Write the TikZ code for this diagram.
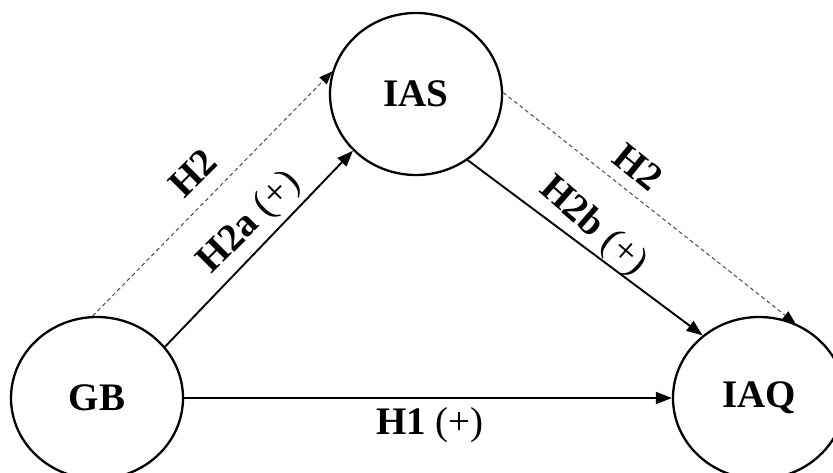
\documentclass[tikz,border=0pt]{standalone}
\usepackage{fontspec}
\setmainfont{Liberation Serif}
\usetikzlibrary{shapes.geometric,arrows.meta}
\begin{document}
\begin{tikzpicture}[x=1pt,y=-1pt,
  var/.style={ellipse,draw,line width=2.3pt,minimum width=172pt,minimum height=162pt,inner sep=0pt,font=\fontsize{39}{44}\selectfont\bfseries},
  lbl/.style={font=\fontsize{39}{44}\selectfont\bfseries,inner sep=0pt},
  solidarrow/.style={line width=1.9pt,-{Triangle[length=16pt,width=12pt]}},
  dasharrow/.style={line width=1pt,draw=black!70,dash pattern=on 4pt off 3pt,-{Triangle[length=13pt,width=10pt,color=black,fill=black]}}]
\clip (0,0) rectangle (833,472);
\node[var] (GB) at (97,398) {GB};
\node[var] (IAS) at (416,94) {IAS};
\node[var] (IAQ) at (759,398) {IAQ};
\draw[solidarrow] (GB) -- (IAQ);
\draw[solidarrow] (GB.37) -- (IAS.222);
\draw[solidarrow] (IAS.-52) -- (IAQ.132);
\draw[dasharrow] (GB.93) -- (IAS.165);
\draw[dasharrow] (IAS.1) -- (IAQ.64);
\node[lbl] (l1) at (430,425) {H1 {\mdseries(+)}};
\node[lbl,rotate=45] (l2) at (193,173) {H2};
\node[lbl,rotate=45] (l2a) at (250,223) {H2a {\mdseries(+)}};
\node[lbl,rotate=-39] (l3) at (638,167) {H2};
\node[lbl,rotate=-41] (l2b) at (593,227) {H2b {\mdseries(+)}};
\end{tikzpicture}
\end{document}
